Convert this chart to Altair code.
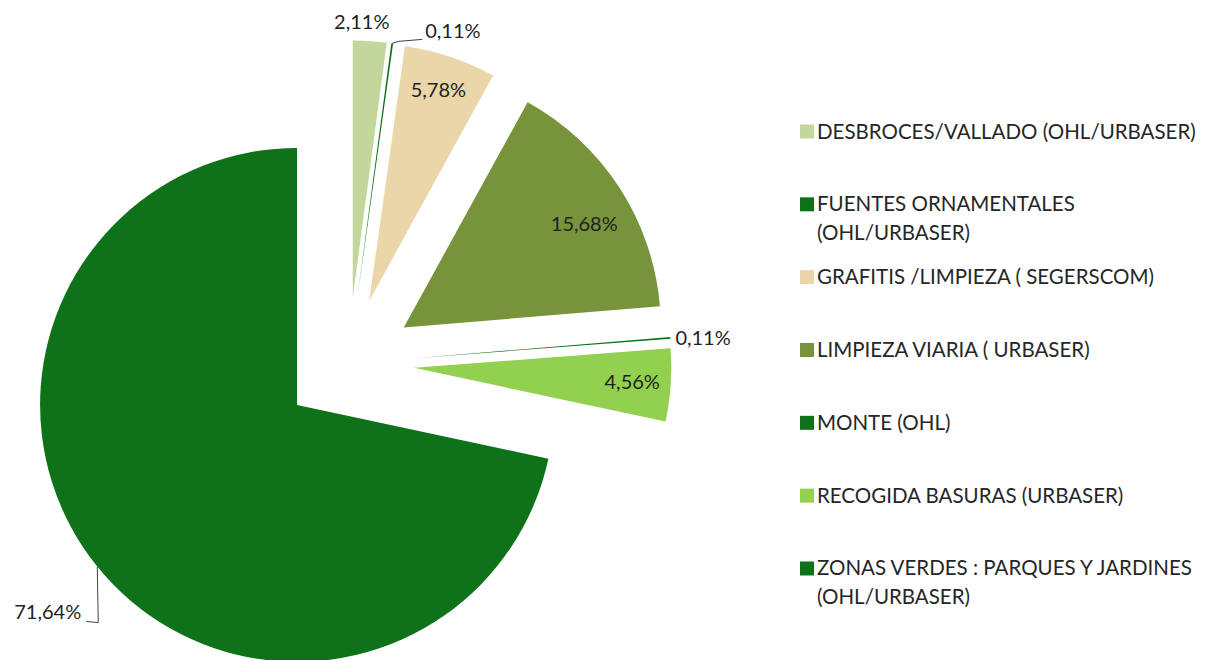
import json
import altair as alt
import pandas as pd

# ---- data ----
categories = [
    "DESBROCES/VALLADO (OHL/URBASER)",
    "FUENTES ORNAMENTALES (OHL/URBASER)",
    "GRAFITIS /LIMPIEZA ( SEGERSCOM)",
    "LIMPIEZA VIARIA ( URBASER)",
    "MONTE (OHL)",
    "RECOGIDA BASURAS (URBASER)",
    "ZONAS VERDES : PARQUES Y JARDINES (OHL/URBASER)",
]
percentages = [2.11, 0.11, 5.78, 15.68, 0.11, 4.56, 71.64]
colors = ["#C3D69B", "#0E7218", "#EAD6A8", "#77933C", "#0E7218", "#92D050", "#0E7218"]

df = pd.DataFrame({"cat": categories, "pct": percentages, "idx": list(range(len(categories)))})

# ---- style ----
W, H = 1191, 652
CX, CY, R, EXPLODE = 340.4, 355.4, 257, 66
FONT = "Lato"
LABEL_R = [1, 1, 0.84, 0.8, 1, 0.85, 1]
LABEL_DX = [-8, 33, 1, 8, 5, 0, -16]
LABEL_DY = [-18, -11, -5, 9, 1, 0, 46]
LABEL_ALIGN = ["center", "left", "center", "center", "left", "center", "right"]
LEADER = [0, 1, 0, 0, 0, 0, 1]
ELB_DX = [0, 6, 0, 0, 0, 0, 1]
ELB_DY = [0, -2, 0, 0, 0, 0, 56]
END_DX = [0, -3, 0, 0, 0, 0, 5]
END_DY = [0, 7, 0, 0, 0, 0, 9]
LEG_SQ_X, LEG_TXT_X, LEG_Y0, LEG_STEP = 799, 809, 130.5, 72.83


def arr(a):
    return json.dumps(a)


color = alt.Color("cat:N", scale=alt.Scale(domain=categories, range=colors), legend=None)

base = (
    alt.Chart(df)
    .transform_window(cum="sum(pct)", sort=[alt.SortField("idx")], frame=[None, 0])
    .transform_joinaggregate(total="sum(pct)")
    .transform_calculate(
        t0="2*PI*(datum.cum - datum.pct)/datum.total",
        t1="2*PI*datum.cum/datum.total",
        mid="PI*(2*datum.cum - datum.pct)/datum.total",
    )
    .transform_calculate(
        tx=f"{CX} + {EXPLODE}*sin(datum.mid)",
        ty=f"{CY} - {EXPLODE}*cos(datum.mid)",
    )
    .transform_calculate(
        ox=f"datum.tx + {R}*sin(datum.mid)",
        oy=f"datum.ty - {R}*cos(datum.mid)",
        lx=f"datum.tx + {arr(LABEL_R)}[datum.idx]*{R}*sin(datum.mid) + {arr(LABEL_DX)}[datum.idx]",
        ly=f"datum.ty - {arr(LABEL_R)}[datum.idx]*{R}*cos(datum.mid) + {arr(LABEL_DY)}[datum.idx]",
        al=f"{arr(LABEL_ALIGN)}[datum.idx]",
        lead=f"{arr(LEADER)}[datum.idx]",
        lab="replace(format(datum.pct, '.2f'), '.', ',') + '%'",
    )
    .transform_calculate(
        ex1=f"datum.ox + {arr(ELB_DX)}[datum.idx]",
        ey1=f"datum.oy + {arr(ELB_DY)}[datum.idx]",
        ex2=f"datum.lx + {arr(END_DX)}[datum.idx]",
        ey2=f"datum.ly + {arr(END_DY)}[datum.idx]",
    )
)

arcs = base.mark_arc(radius=R).encode(
    x=alt.X("tx:Q", scale=None),
    y=alt.Y("ty:Q", scale=None),
    theta=alt.Theta("t0:Q", scale=None),
    theta2=alt.Theta2("t1:Q"),
    color=color,
)

lead1 = base.transform_filter("datum.lead == 1").mark_rule(color="#404040", strokeWidth=1).encode(
    x=alt.X("ox:Q", scale=None), y=alt.Y("oy:Q", scale=None),
    x2="ex1:Q", y2="ey1:Q",
)
lead2 = base.transform_filter("datum.lead == 1").mark_rule(color="#404040", strokeWidth=1).encode(
    x=alt.X("ex1:Q", scale=None), y=alt.Y("ey1:Q", scale=None),
    x2="ex2:Q", y2="ey2:Q",
)


def labels(align):
    return base.transform_filter(f"datum.al == '{align}'").mark_text(
        align=align, baseline="middle", font=FONT, fontSize=20, color="#1f1f1f"
    ).encode(
        x=alt.X("lx:Q", scale=None),
        y=alt.Y("ly:Q", scale=None),
        text="lab:N",
    )


leg_base = alt.Chart(df).transform_calculate(
    ly=f"{LEG_Y0} + datum.idx*{LEG_STEP}",
    sx=f"{LEG_SQ_X}",
    txx=f"{LEG_TXT_X}",
    txt="length(datum.cat) > 32 ? substring(datum.cat, 0, lastindexof(datum.cat, ' ')) + '\\n' + substring(datum.cat, lastindexof(datum.cat, ' ') + 1) : datum.cat",
)

leg_sq = leg_base.transform_calculate(sy="datum.ly - 7").mark_square(size=196, opacity=1).encode(
    x=alt.X("sx:Q", scale=None), y=alt.Y("sy:Q", scale=None), color=color,
)
leg_txt = leg_base.mark_text(
    align="left", baseline="alphabetic", font=FONT, fontSize=20.5, color="#262626",
    lineBreak="\n", lineHeight=29,
).encode(
    x=alt.X("txx:Q", scale=None), y=alt.Y("ly:Q", scale=None), text="txt:N",
)

chart = (
    alt.layer(arcs, lead1, lead2, labels("center"), labels("left"), labels("right"), leg_sq, leg_txt)
    .properties(width=W, height=H, padding=0, autosize=alt.AutoSizeParams(type="none"))
    .configure_view(stroke=None)
)

chart.save("out.html", embed_options={"renderer": "svg", "actions": False})
